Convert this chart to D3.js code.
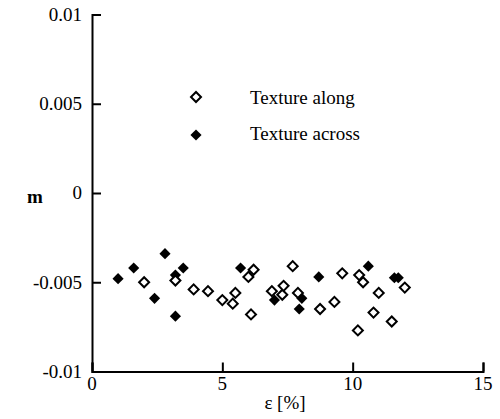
<!DOCTYPE html>
<html>
<head>
<meta charset="utf-8">
<script src="https://cdn.jsdelivr.net/npm/d3@7"></script>
<style>
  html, body { margin: 0; padding: 0; background: #fff; }
  svg { display: block; }
  text { font-family: "Liberation Serif", "Times New Roman", serif; fill: #000; }
</style>
</head>
<body>
<svg id="chart" width="500" height="419"></svg>
<script>
// ---- data ----
const alongX = [2.0, 3.2, 3.9, 4.45, 5.0, 5.4, 5.5, 6.0, 6.2, 6.1, 6.9, 7.3, 7.35, 7.7, 7.9, 8.75, 9.3, 9.6, 10.2, 10.25, 10.4, 10.8, 11.0, 11.5, 12.0];
const alongY = [-0.0050, -0.0049, -0.0054, -0.0055, -0.0060, -0.0062, -0.0056, -0.0047, -0.0043, -0.0068, -0.0055, -0.0057, -0.0052, -0.0041, -0.0056, -0.0065, -0.0061, -0.0045, -0.0077, -0.0046, -0.0050, -0.0067, -0.0056, -0.0072, -0.0053];
const acrossX = [1.0, 1.6, 2.4, 2.8, 3.2, 3.2, 3.5, 5.7, 7.0, 7.95, 8.05, 8.7, 10.6, 11.6, 11.75];
const acrossY = [-0.0048, -0.0042, -0.0059, -0.0034, -0.0046, -0.0069, -0.0042, -0.0042, -0.0060, -0.0065, -0.0059, -0.0047, -0.0041, -0.00475, -0.00475];
const xTicks = [0, 5, 10, 15];
const yTicks = [-0.01, -0.005, 0, 0.005, 0.01];
const yTickLabels = ["-0.01", "-0.005", "0", "0.005", "0.01"];
const seriesNames = ["Texture along", "Texture across"];
const xLabel = "ε [%]";
const yLabel = "m";

// ---- layout ----
const svg = d3.select("#chart");
const x = d3.scaleLinear().domain([0, 15]).range([92, 483]);
const y = d3.scaleLinear().domain([-0.01, 0.01]).range([371.5, 14.5]);

const xAxis = d3.axisTop(x).tickValues(xTicks).tickSize(9).tickFormat("");
const yAxis = d3.axisRight(y).tickValues(yTicks).tickSize(9).tickFormat("");

const gx = svg.append("g").attr("transform", `translate(0,${y(-0.01)})`).call(xAxis);
const gy = svg.append("g").attr("transform", `translate(${x(0)},0)`).call(yAxis);
[gx, gy].forEach(g => {
  g.select(".domain").attr("stroke", "#000").attr("stroke-width", 2);
  g.selectAll(".tick line").attr("stroke", "#000").attr("stroke-width", 2);
});

// x tick labels
svg.append("g").selectAll("text").data(xTicks).join("text")
  .attr("x", d => x(d)).attr("y", 390)
  .attr("text-anchor", "middle").attr("font-size", 19)
  .text(d => d);

// y tick labels
svg.append("g").selectAll("text").data(yTicks).join("text")
  .attr("x", 82).attr("y", d => y(d))
  .attr("dy", "0.33em")
  .attr("text-anchor", "end").attr("font-size", 19)
  .text((d, i) => yTickLabels[i]);

// axis titles
svg.append("text").attr("x", 285).attr("y", 409).attr("text-anchor", "middle")
  .attr("font-size", 19).text(xLabel);
svg.append("text").attr("x", 35).attr("y", 203).attr("text-anchor", "middle")
  .attr("font-size", 19).attr("font-weight", "bold").text(yLabel);

// markers
const openSym = d3.symbol().type(d3.symbolSquare).size(50);
const fillSym = d3.symbol().type(d3.symbolSquare).size(62);

const along = alongX.map((v, i) => [v, alongY[i]]);
const across = acrossX.map((v, i) => [v, acrossY[i]]);

svg.append("g").selectAll("path").data(across).join("path")
  .attr("d", fillSym)
  .attr("transform", d => `translate(${x(d[0])},${y(d[1])}) rotate(45)`)
  .attr("fill", "#000");

svg.append("g").selectAll("path").data(along).join("path")
  .attr("d", openSym)
  .attr("transform", d => `translate(${x(d[0])},${y(d[1])}) rotate(45)`)
  .attr("fill", "#fff").attr("stroke", "#000").attr("stroke-width", 2);

// legend
const lg = svg.append("g");
lg.append("path").attr("d", openSym)
  .attr("transform", "translate(196,97) rotate(45)")
  .attr("fill", "#fff").attr("stroke", "#000").attr("stroke-width", 2);
lg.append("path").attr("d", fillSym)
  .attr("transform", "translate(196,135) rotate(45)")
  .attr("fill", "#000");
lg.append("text").attr("x", 250).attr("y", 104).attr("font-size", 19).text(seriesNames[0]);
lg.append("text").attr("x", 250).attr("y", 140).attr("font-size", 19).text(seriesNames[1]);
</script>
</body>
</html>
